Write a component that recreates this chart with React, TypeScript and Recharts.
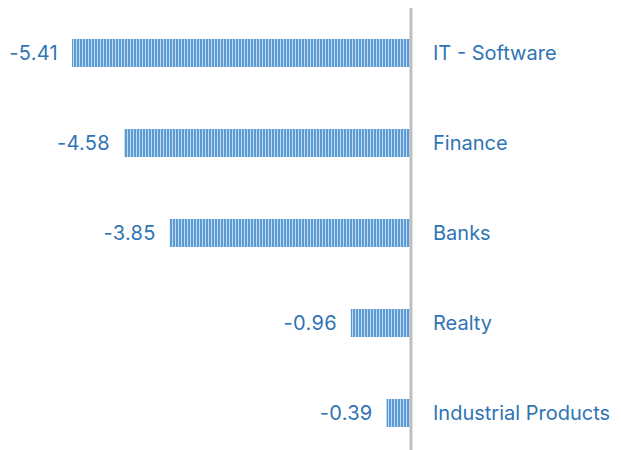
import React from "react";
import { BarChart, Bar, XAxis, YAxis, LabelList } from "recharts";

const categories = ["IT - Software", "Finance", "Banks", "Realty", "Industrial Products"];
const values = [-5.41, -4.58, -3.85, -0.96, -0.39];

const data = categories.map((name, i) => ({ name, value: values[i] }));

const TEXT = "#2f74b5";
const FONT = "Inter, sans-serif";
const FS = 20;
const LS = 0.3;

const ValueLabel = (props: any) => {
  const { x, y, width, height, value } = props;
  const left = Math.min(Number(x), Number(x) + Number(width));
  return (
    <text
      x={left - 14}
      y={Number(y) + Number(height) / 2}
      fill={TEXT}
      fontSize={FS}
      fontFamily={FONT}
      letterSpacing={LS}
      textAnchor="end"
      dominantBaseline="central"
    >
      {value}
    </text>
  );
};

export default function App() {
  return (
    <div style={{ width: 613, height: 442 }}>
      <BarChart
        width={613}
        height={442}
        data={data}
        layout="vertical"
        margin={{ top: 0, right: 0, bottom: -8, left: 64 }}
        barSize={28}
        style={{ overflow: "visible" }}
      >
        <defs>
          <pattern id="stripes" width="3" height="10" patternUnits="userSpaceOnUse">
            <rect x="0" y="0" width="3" height="10" fill="#c3dbf1" />
            <rect x="0" y="0" width="2" height="10" fill="#5b9bd5" />
          </pattern>
        </defs>
        <XAxis type="number" domain={["dataMin", 0]} hide />
        <YAxis
          type="category"
          dataKey="name"
          orientation="right"
          width={210}
          axisLine={{ stroke: "#bfbfbf", strokeWidth: 3 }}
          tickLine={false}
          tickSize={0}
          tickMargin={22}
          tick={{ fill: TEXT, fontSize: FS, fontFamily: FONT, textAnchor: "start", letterSpacing: 0 }}
        />
        <Bar dataKey="value" fill="url(#stripes)" isAnimationActive={false}>
          <LabelList dataKey="value" content={ValueLabel} />
        </Bar>
      </BarChart>
    </div>
  );
}
